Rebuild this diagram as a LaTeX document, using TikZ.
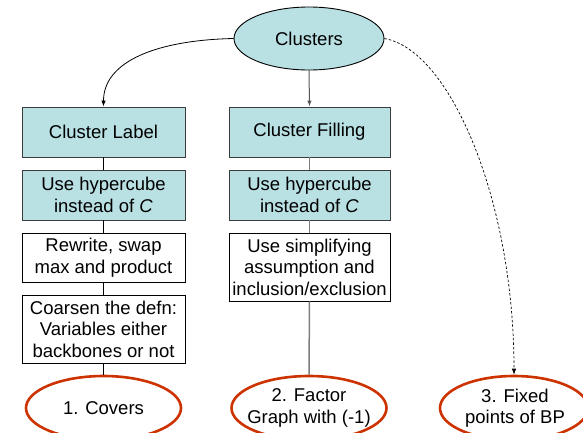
\documentclass[tikz,border=0pt]{standalone}
\usepackage{fontspec}
\setmainfont{Liberation Sans}
\usetikzlibrary{arrows.meta,shapes.geometric}
\definecolor{tealfill}{RGB}{185,224,227}
\definecolor{boxline}{RGB}{60,60,60}
\definecolor{redE}{RGB}{204,51,0}
\definecolor{grayline}{RGB}{125,125,125}
\definecolor{darkgrayline}{RGB}{85,85,85}
\begin{document}
\begin{tikzpicture}[x=1pt,y=-1pt,
  every node/.style={font=\fontsize{18.5}{21.5}\selectfont},
  tealbox/.style={draw=boxline, fill=tealfill, line width=0.9pt, inner sep=0pt, align=center, minimum width=163pt},
  whitebox/.style={draw=black, fill=white, line width=0.8pt, inner sep=0pt, align=center, minimum width=163pt},
  topell/.style={ellipse, draw=black, fill=tealfill, line width=0.9pt, inner sep=0pt, minimum width=150pt, minimum height=63pt},
  redell/.style={ellipse, draw=redE, line width=2.6pt, inner sep=0pt, minimum width=155pt, minimum height=64pt},
  lbl/.style={align=center, inner sep=0pt},
  blackline/.style={draw=black, line width=0.8pt},
  grayconn/.style={draw=grayline, line width=1.5pt},
  tip/.style={-{Latex[length=6pt,width=4.5pt]}}
]
\useasboundingbox (0,0) rectangle (583,432);
\clip (0,0) rectangle (583,432);

% top ellipse
\node[topell] (clu) at (309,38.5) {Clusters};

% left column
\node[tealbox, minimum height=50pt] (lab) at (103.5,132) {Cluster Label};
\node[tealbox, minimum height=50pt] (hypl) at (103.5,195) {Use hypercube\\instead of \textit{C}};
\node[whitebox, minimum height=49pt] (rew) at (103.5,257.5) {Rewrite, swap\\max and product};
\node[whitebox, minimum height=68pt] (coa) at (103.5,329) {Coarsen the defn:\\Variables either\\backbones or not};

% middle column
\node[tealbox, minimum width=161pt, minimum height=50pt] (fil) at (309.5,132) {Cluster Filling};
\node[tealbox, minimum width=161pt, minimum height=50pt] (hypf) at (309.5,195) {Use hypercube\\instead of \textit{C}};
\node[whitebox, minimum width=161pt, minimum height=68pt] (sim) at (309.5,267) {Use simplifying\\assumption and\\inclusion/exclusion};

% bottom ellipses
\node[redell] (e1) at (103.5,408) {};
\node[lbl] (e1t) at (103.5,408) {1. Covers};
\node[redell] (e2) at (309,408) {};
\node[lbl] (e2t) at (309,408) {2. Factor\\Graph with (-1)};
\node[redell, minimum width=148pt] (e3) at (514,408) {};
\node[lbl] (e3t) at (515,408) {3. Fixed\\points of BP};

% connectors
\draw[blackline, tip] (clu.west) .. controls (160,40) and (103.5,60) .. (lab.north);
\draw[draw=darkgrayline, line width=1pt, tip] (clu.south) -- (fil.north);
\draw[draw=black, line width=0.7pt, dash pattern=on 2.5pt off 2pt, tip] (clu.east) .. controls (450,50) and (514,200) .. (e3.north);

\draw[blackline] (lab.south) -- (hypl.north);
\draw[blackline] (hypl.south) -- (rew.north);
\draw[blackline] (rew.south) -- (coa.north);
\draw[blackline] (coa.south) -- (e1.north);

\draw[grayconn] (fil.south) -- (hypf.north);
\draw[grayconn] (hypf.south) -- (sim.north);
\draw[grayconn] (sim.south) -- (e2.north);
\end{tikzpicture}
\end{document}
